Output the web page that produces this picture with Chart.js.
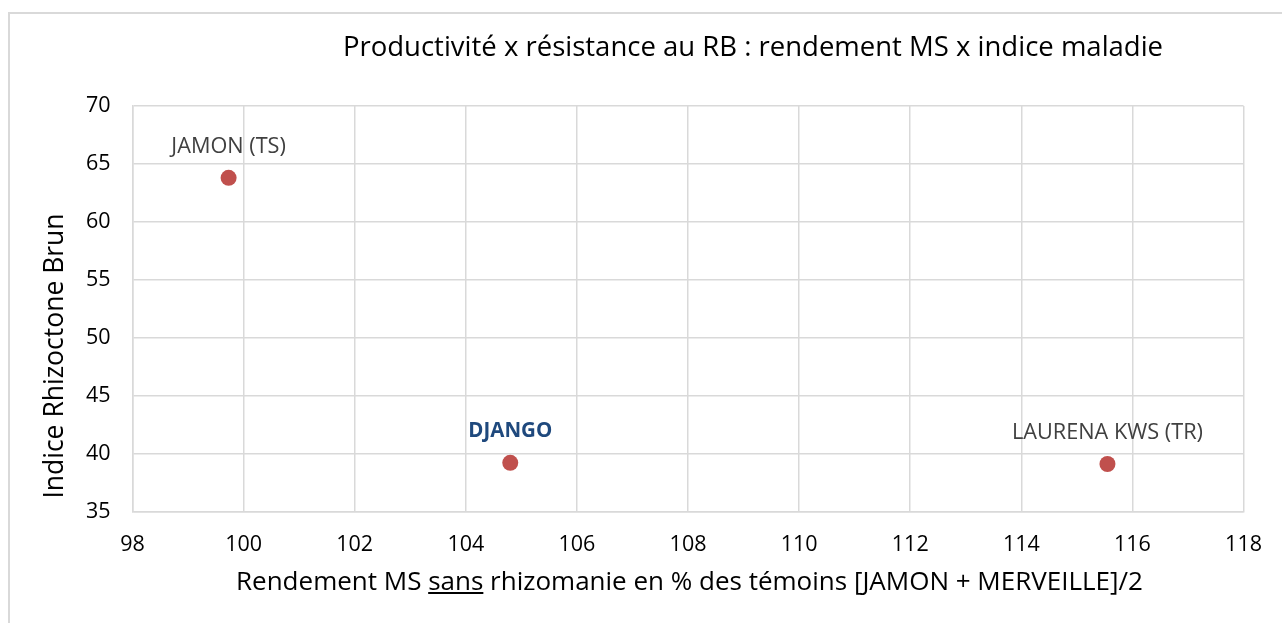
<!DOCTYPE html>
<html lang="fr">
<head>
<meta charset="utf-8">
<title>Productivité x résistance au RB</title>
<script src="https://cdn.jsdelivr.net/npm/chart.js@4.4.1/dist/chart.umd.min.js"></script>
<style>
  html, body { margin: 0; padding: 0; background: #fff; }
  #wrap { position: relative; width: 1282px; height: 623px; overflow: hidden; font-family: "Open Sans", "Noto Sans", sans-serif; }
  #frame { position: absolute; left: 8px; top: 12px; right: -10px; bottom: -10px;
           border-left: 2px solid #d9d9d9; border-top: 2px solid #d9d9d9; }
  #box { position: absolute; left: 0; top: 0; width: 1282px; height: 623px; }
  .txt { position: absolute; white-space: nowrap; line-height: 1; color: #000; }
  #title { left: 224px; width: 1058px; top: 32px; font-size: 27.5px; text-align: center; }
  #xtitle { left: 132px; width: 1115px; top: 567px; font-size: 26px; text-align: center; }
  #ytitle { left: 40px; top: 556px; width: 400px; font-size: 26.5px; text-align: center;
            transform-origin: 0 0; transform: rotate(-90deg); }
</style>
</head>
<body>
<div id="wrap">
  <div id="frame"></div>
  <div id="box"><canvas id="chart"></canvas></div>
  <div class="txt" id="title">Productivité x résistance au RB : rendement MS x indice maladie</div>
  <div class="txt" id="xtitle">Rendement MS <u>sans</u> rhizomanie en % des témoins [JAMON + MERVEILLE]/2</div>
  <div class="txt" id="ytitle">Indice Rhizoctone Brun</div>
</div>
<script>
// --- Data ---
const varieties = ['JAMON (TS)', 'DJANGO', 'LAURENA KWS (TR)'];
const rendementMS = [99.73, 104.8, 115.55];   // % des témoins
const indiceRB = [63.8, 39.2, 39.1];          // indice Rhizoctone brun
const highlighted = 'DJANGO';

const xMin = 98, xMax = 118, xStep = 2;
const yMin = 35, yMax = 70, yStep = 5;

const gridColor = '#d9d9d9';
const tickFont = { family: '"Open Sans", "Noto Sans", sans-serif', size: 21.5 };

// labels drawn above each point
const pointLabels = {
    id: 'pointLabels',
    afterDatasetsDraw(chart) {
        const ctx = chart.ctx;
        const meta = chart.getDatasetMeta(0);
        ctx.save();
        ctx.textAlign = 'center';
        ctx.textBaseline = 'middle';
        meta.data.forEach((pt, i) => {
            const name = varieties[i];
            const hi = name === highlighted;
            ctx.font = (hi ? 'bold 20.5px ' : '21.7px ') + '"Open Sans", "Noto Sans", sans-serif';
            ctx.fillStyle = hi ? '#1f497d' : '#404040';
            ctx.fillText(name, pt.x, pt.y - 31.5);
        });
        ctx.restore();
    }
};

const points = rendementMS.map((x, i) => ({ x: x, y: indiceRB[i] }));

new Chart(document.getElementById('chart').getContext('2d'), {
    type: 'scatter',
    data: {
        datasets: [{
            label: 'Variétés',
            data: points,
            backgroundColor: '#c0504d',
            borderColor: '#c0504d',
            borderWidth: 0,
            pointRadius: 8,
            pointHoverRadius: 8
        }]
    },
    options: {
        responsive: true,
        maintainAspectRatio: false,
        animation: false,
        layout: { padding: { left: 0, top: 106, right: 35.5, bottom: 0 } },
        plugins: {
            legend: { display: false },
            tooltip: { enabled: false }
        },
        scales: {
            x: {
                type: 'linear',
                min: xMin, max: xMax,
                afterFit: s => { s.height = 111.5; },
                ticks: { stepSize: xStep, color: '#000', font: tickFont, padding: 20, maxRotation: 0 },
                grid: { color: gridColor, lineWidth: 1.5, drawTicks: false },
                border: { color: gridColor, width: 1.5 }
            },
            y: {
                type: 'linear',
                min: yMin, max: yMax,
                afterFit: s => { s.width = 132.5; },
                ticks: { stepSize: yStep, color: '#000', font: tickFont, padding: 22 },
                grid: { color: gridColor, lineWidth: 1.5, drawTicks: false },
                border: { color: gridColor, width: 1.5 }
            }
        }
    },
    plugins: [pointLabels]
});
</script>
</body>
</html>
